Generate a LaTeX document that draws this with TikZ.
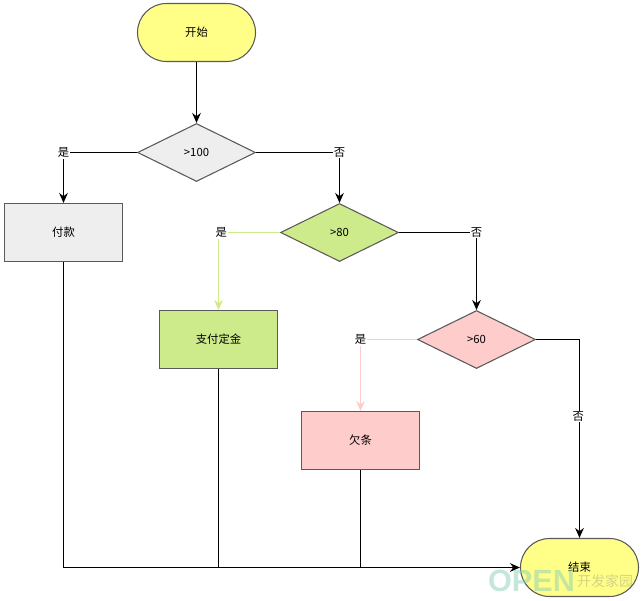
\documentclass[tikz,border=0pt]{standalone}
\usepackage{fontspec}
\setmainfont{Liberation Sans}
\newfontfamily\cjk{Noto Sans CJK SC}
\usetikzlibrary{shapes.geometric,arrows.meta}

\definecolor{startyellow}{HTML}{FFFF88}
\definecolor{grayfill}{HTML}{EEEEEE}
\definecolor{greenfill}{HTML}{CDEB8B}
\definecolor{pinkfill}{HTML}{FFCCCC}
\definecolor{nodeline}{HTML}{5A5A5A}
\definecolor{markteal}{HTML}{8CCFB4}

\tikzset{
 box/.style={draw=nodeline,line width=0.8pt,minimum width=88.5pt,minimum height=43.5pt,inner sep=0pt,font=\cjk\fontsize{8.5}{10}\selectfont},
 terminal/.style={box,rounded corners=21.7pt,fill=startyellow},
 decision/.style={box,diamond,aspect=2,minimum width=88.5pt,minimum height=43.5pt},
 flow/.style={line width=0.9pt,-{Stealth[length=7.5pt,width=6.5pt]}},
 joinline/.style={line width=0.9pt},
 answer/.style={fill=white,inner sep=0.8pt,font=\cjk\fontsize{8.5}{10}\selectfont}
}

\begin{document}
\begin{tikzpicture}[x=0.75pt,y=-0.75pt]
 \useasboundingbox (0,0) rectangle (642,600);

 \node[terminal] (start) at (196.5,32.5) {开始};
 \node[decision,fill=grayfill] (over100) at (196.5,152.5) {>100};
 \node[box,fill=grayfill] (pay) at (63.5,232.5) {付款};
 \node[decision,fill=greenfill] (over80) at (339.5,232.5) {>80};
 \node[box,fill=greenfill] (deposit) at (218.5,339.5) {支付定金};
 \node[decision,fill=pinkfill] (over60) at (476.5,339.5) {>60};
 \node[box,fill=pinkfill] (iou) at (360.5,440.5) {欠条};
 \node[terminal] (finish) at (579.5,567.5) {结束};

 \draw[flow] (start) -- (over100);

 % Yes branches
 \draw[flow] (over100.west) -| node[answer,pos=0.5] (yes100) {是} (pay.north);
 \draw[flow,greenfill] (over80.west) -| node[answer,pos=0.5,text=black,xshift=2pt] (yes80) {是} (deposit.north);
 \draw[flow,pinkfill] (over60.west) -| node[answer,pos=0.5,text=black] (yes60) {是} (iou.north);

 % No branches
 \draw[flow] (over100.east) -| node[answer,pos=0.5] (no100) {否} (over80.north);
 \draw[flow] (over80.east) -| node[answer,pos=0.5] (no80) {否} (over60.north);
 \draw[flow] (over60.east) -| node[answer,pos=0.694,xshift=-1pt] (no60) {否} (finish.north);

 % Everything runs into the end
 \coordinate (joindeposit) at (deposit.south |- finish.west);
 \coordinate (joiniou) at (iou.south |- finish.west);
 \draw[flow] (pay.south) |- (finish.west);
 \draw[joinline] (deposit.south) -- (joindeposit);
 \draw[joinline] (iou.south) -- (joiniou);

 % Site mark in the corner
 \node[opacity=0.5,text=markteal,font=\bfseries\fontsize{23}{23}\selectfont,inner sep=0pt] (markopen) at (531.5,581) {OPEN};
 \node[opacity=0.35,text=gray,font=\cjk\fontsize{10.5}{11}\selectfont,inner sep=0pt] (markcjk) at (605,581) {开发家园};
\end{tikzpicture}
\end{document}
